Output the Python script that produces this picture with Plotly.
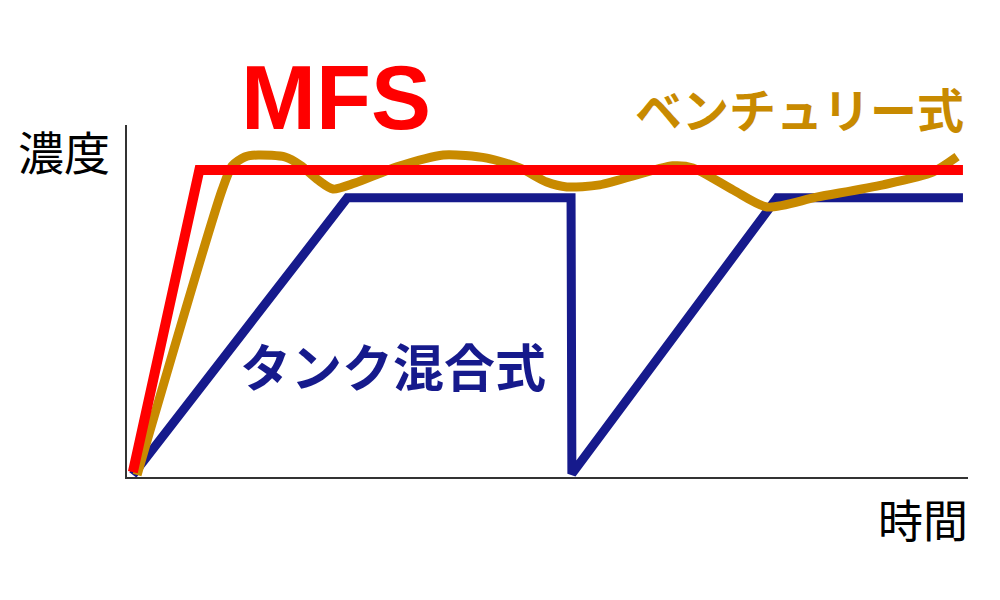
import plotly.graph_objects as go

# time axis 0-100, concentration axis 0-100 (arbitrary units)
mfs_time = [0.7, 8.6, 99.4]
mfs_conc = [1.4, 87.2, 87.2]

tank_time = [0.7, 26.2, 52.8, 52.9, 77.3, 99.4]
tank_conc = [0.6, 79.3, 79.3, 0.9, 79.3, 79.3]

venturi_time = [1.2, 11.3, 12.5, 14.0, 15.6, 18.8, 20.6, 22.7, 24.5, 27.1, 32.1, 37.6,
                42.8, 46.7, 49.9, 52.3, 56.2, 64.9, 67.3, 72.1, 76.1, 82.0, 89.9, 95.8, 98.7]
venturi_conc = [0.6, 81.5, 88.4, 90.9, 91.5, 90.9, 88.6, 84.4, 81.8, 83.5, 88.1, 91.5,
                90.6, 87.8, 83.8, 82.4, 83.0, 88.4, 87.8, 81.5, 76.7, 79.5, 83.0, 86.6, 91.0]

RED = '#FF0000'
NAVY = '#161A8C'
GOLD = '#C88A00'
JP = "Noto Sans CJK JP"

fig = go.Figure()

fig.add_trace(go.Scatter(x=tank_time, y=tank_conc, mode='lines',
                         line=dict(color=NAVY, width=9), hoverinfo='skip'))
fig.add_trace(go.Scatter(x=venturi_time, y=venturi_conc, mode='lines',
                         line=dict(color=GOLD, width=9, shape='spline', smoothing=0.7),
                         hoverinfo='skip'))
fig.add_trace(go.Scatter(x=mfs_time, y=mfs_conc, mode='lines',
                         line=dict(color=RED, width=10), hoverinfo='skip'))

labels = [
    # text, x, y, size, colour, family
    ("<b>MFS</b>", 0.2485, 1.078, 90, RED, "Liberation Sans"),
    ("<b>ベンチュリー式</b>", 0.800, 1.050, 47, GOLD, JP),
    ("<b>タンク混合式</b>", 0.3157, 0.3168, 51, NAVY, JP),
    ("濃度", -0.0755, 0.929, 46, 'black', JP),
    ("時間", 0.9465, -0.119, 45, 'black', JP),
]
for text, x, y, size, color, family in labels:
    fig.add_annotation(text=text, x=x, y=y, xref='paper', yref='paper',
                       xanchor='center', yanchor='middle', showarrow=False,
                       font=dict(size=size, color=color, family=family))

fig.update_xaxes(range=[0, 100], showline=True, linecolor='#333333', linewidth=1.5,
                 showgrid=False, zeroline=False, showticklabels=False, ticks='')
fig.update_yaxes(range=[0, 100], showline=True, linecolor='#333333', linewidth=1.5,
                 showgrid=False, zeroline=False, showticklabels=False, ticks='')

# page body adds an 8px offset, so margins are trimmed by 8 on left/top
fig.update_layout(
    width=1000, height=600,
    margin=dict(l=119, r=40, t=117, b=131),
    paper_bgcolor='white', plot_bgcolor='white',
    showlegend=False,
)

fig.write_html("out.html")
